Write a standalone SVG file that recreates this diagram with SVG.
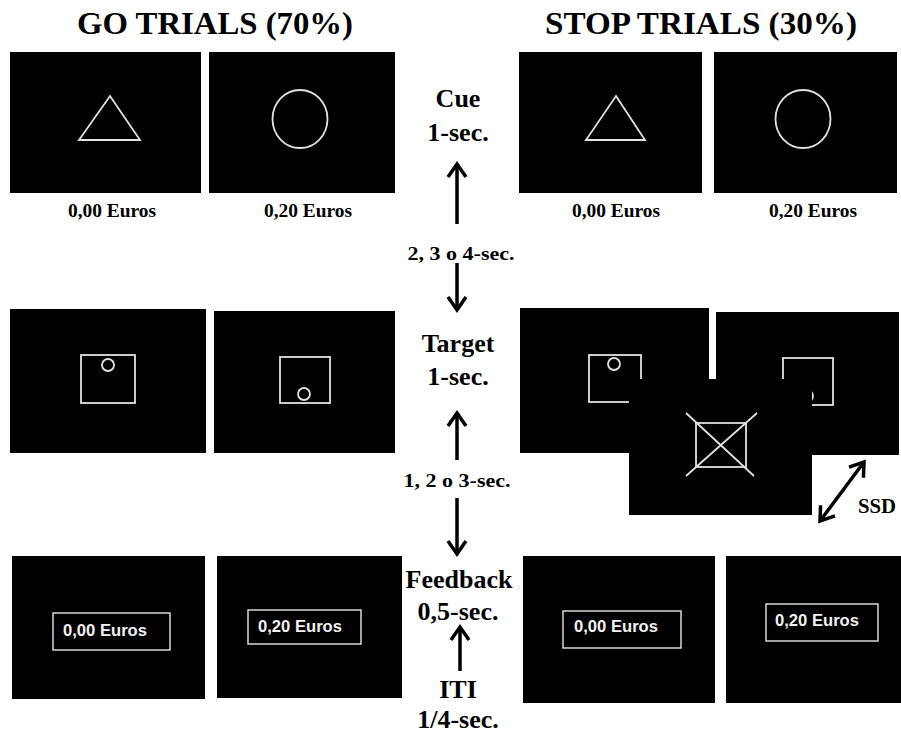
<svg xmlns="http://www.w3.org/2000/svg" width="901" height="733" viewBox="0 0 901 733">
  <style>
    .screen { fill: #000; }
    .shape { fill: none; stroke: #e2e2e2; stroke-width: 1.8; }
    .title { font-family: "Liberation Serif", "Times New Roman", serif; font-weight: bold; font-size: 32px; fill: #000; text-anchor: middle; }
    .phase { font-family: "Liberation Serif", "Times New Roman", serif; font-weight: bold; font-size: 26px; fill: #000; text-anchor: middle; }
    .interval { font-family: "Liberation Serif", "Times New Roman", serif; font-weight: bold; font-size: 19px; fill: #000; text-anchor: middle; }
    .ssd { font-family: "Liberation Serif", "Times New Roman", serif; font-weight: bold; font-size: 21px; fill: #000; }
    .reward { font-family: "Liberation Serif", "Times New Roman", serif; font-weight: bold; font-size: 19px; fill: #000; text-anchor: middle; }
    .fbtext { font-family: "Liberation Sans", Arial, sans-serif; font-weight: bold; font-size: 17px; fill: #f2f2f2; }
    .fbbox { fill: none; stroke: #e6e6e6; stroke-width: 1.4; }
    .arrow { fill: none; stroke: #000; stroke-width: 3.5; }
  </style>
  <defs>
    <marker id="head" markerUnits="userSpaceOnUse" viewBox="-16 -11 20 22" markerWidth="20" markerHeight="22" refX="0" refY="0" orient="auto-start-reverse">
      <path d="M-13,-9 L0,0 L-13,9" fill="none" stroke="#000" stroke-width="3.5" stroke-linejoin="miter"/>
    </marker>
  </defs>

  <rect width="901" height="733" fill="#fff"/>

  <!-- column headings -->
  <text class="title" x="215" y="34" textLength="276" lengthAdjust="spacingAndGlyphs">GO TRIALS (70%)</text>
  <text class="title" x="701" y="34" textLength="312" lengthAdjust="spacingAndGlyphs">STOP TRIALS (30%)</text>

  <!-- cue screens, go trials -->
  <g id="go-cue-0">
    <rect class="screen" x="10" y="52" width="191" height="141"/>
    <polygon class="shape" points="110,96 140,140 79,140"/>
    <text class="reward" x="112" y="217" textLength="88" lengthAdjust="spacingAndGlyphs">0,00 Euros</text>
  </g>
  <g id="go-cue-20">
    <rect class="screen" x="209" y="52" width="186" height="141"/>
    <ellipse class="shape" cx="300" cy="119" rx="27.5" ry="29"/>
    <text class="reward" x="308" y="217" textLength="88" lengthAdjust="spacingAndGlyphs">0,20 Euros</text>
  </g>

  <!-- cue screens, stop trials -->
  <g id="stop-cue-0">
    <rect class="screen" x="519" y="52" width="183" height="141"/>
    <polygon class="shape" points="616,96 645,140 586,140"/>
    <text class="reward" x="616" y="217" textLength="88" lengthAdjust="spacingAndGlyphs">0,00 Euros</text>
  </g>
  <g id="stop-cue-20">
    <rect class="screen" x="714" y="52" width="183" height="141"/>
    <ellipse class="shape" cx="803" cy="119" rx="27.5" ry="29"/>
    <text class="reward" x="813" y="217" textLength="88" lengthAdjust="spacingAndGlyphs">0,20 Euros</text>
  </g>

  <!-- target screens, go trials -->
  <g id="go-target-up">
    <rect class="screen" x="10" y="309" width="196" height="144"/>
    <rect class="shape" x="81" y="355" width="54" height="48"/>
    <circle class="shape" cx="108" cy="365" r="6"/>
  </g>
  <g id="go-target-down">
    <rect class="screen" x="214" y="311" width="181" height="142"/>
    <rect class="shape" x="280" y="357" width="50" height="46"/>
    <circle class="shape" cx="304" cy="394" r="6"/>
  </g>

  <!-- target screens, stop trials -->
  <g id="stop-target-up">
    <rect class="screen" x="520" y="308" width="189" height="145"/>
    <rect class="shape" x="589" y="355" width="52" height="47"/>
    <circle class="shape" cx="614" cy="364" r="6"/>
  </g>
  <g id="stop-target-down">
    <rect class="screen" x="716" y="312" width="183" height="143"/>
    <rect class="shape" x="783" y="358" width="50" height="47"/>
    <circle class="shape" cx="807" cy="396" r="6"/>
  </g>
  <g id="stop-signal">
    <rect class="screen" x="629" y="379" width="183" height="136"/>
    <rect class="shape" x="696" y="423" width="50" height="44"/>
    <line class="shape" x1="686" y1="413" x2="754" y2="476"/>
    <line class="shape" x1="757" y1="413" x2="686" y2="476"/>
  </g>

  <!-- feedback screens, go trials -->
  <g id="go-feedback-0">
    <rect class="screen" x="12" y="556" width="193" height="143"/>
    <rect class="fbbox" x="53" y="613" width="117" height="37"/>
    <text class="fbtext" x="63" y="636" textLength="84" lengthAdjust="spacingAndGlyphs">0,00 Euros</text>
  </g>
  <g id="go-feedback-20">
    <rect class="screen" x="217" y="556" width="185" height="142"/>
    <rect class="fbbox" x="248" y="610" width="113" height="34"/>
    <text class="fbtext" x="258" y="632" textLength="84" lengthAdjust="spacingAndGlyphs">0,20 Euros</text>
  </g>

  <!-- feedback screens, stop trials -->
  <g id="stop-feedback-0">
    <rect class="screen" x="523" y="556" width="192" height="147"/>
    <rect class="fbbox" x="563" y="611" width="118" height="37"/>
    <text class="fbtext" x="574" y="632" textLength="84" lengthAdjust="spacingAndGlyphs">0,00 Euros</text>
  </g>
  <g id="stop-feedback-20">
    <rect class="screen" x="726" y="556" width="175" height="147"/>
    <rect class="fbbox" x="766" y="604" width="112" height="37"/>
    <text class="fbtext" x="775" y="626" textLength="84" lengthAdjust="spacingAndGlyphs">0,20 Euros</text>
  </g>

  <!-- timeline labels -->
  <g id="phase-cue">
    <text class="phase" x="458" y="107">Cue</text>
    <text class="phase" x="458" y="141">1-sec.</text>
  </g>
  <g id="interval-cue-target">
    <text class="interval" x="461" y="260" textLength="107" lengthAdjust="spacingAndGlyphs">2, 3 o 4-sec.</text>
  </g>
  <g id="phase-target">
    <text class="phase" x="458" y="352">Target</text>
    <text class="phase" x="458" y="385">1-sec.</text>
  </g>
  <g id="interval-target-feedback">
    <text class="interval" x="457" y="487" textLength="107" lengthAdjust="spacingAndGlyphs">1, 2 o 3-sec.</text>
  </g>
  <g id="phase-feedback">
    <text class="phase" x="459" y="588">Feedback</text>
    <text class="phase" x="458" y="620">0,5-sec.</text>
  </g>
  <g id="phase-iti">
    <text class="phase" x="458" y="698">ITI</text>
    <text class="phase" x="458" y="728">1/4-sec.</text>
  </g>
  <g id="label-ssd">
    <text class="ssd" x="858" y="513" textLength="38" lengthAdjust="spacingAndGlyphs">SSD</text>
  </g>

  <!-- connectors -->
  <g id="connectors">
    <line class="arrow" x1="457" y1="224" x2="457" y2="164" marker-end="url(#head)"/>
    <line class="arrow" x1="457" y1="263" x2="457" y2="310" marker-end="url(#head)"/>
    <line class="arrow" x1="457" y1="460" x2="457" y2="413" marker-end="url(#head)"/>
    <line class="arrow" x1="457" y1="498" x2="457" y2="554" marker-end="url(#head)"/>
    <line class="arrow" x1="460" y1="671" x2="460" y2="627" marker-end="url(#head)"/>
    <line class="arrow" x1="820" y1="521" x2="864" y2="462" stroke-width="3" marker-start="url(#head)" marker-end="url(#head)"/>
  </g>
</svg>
